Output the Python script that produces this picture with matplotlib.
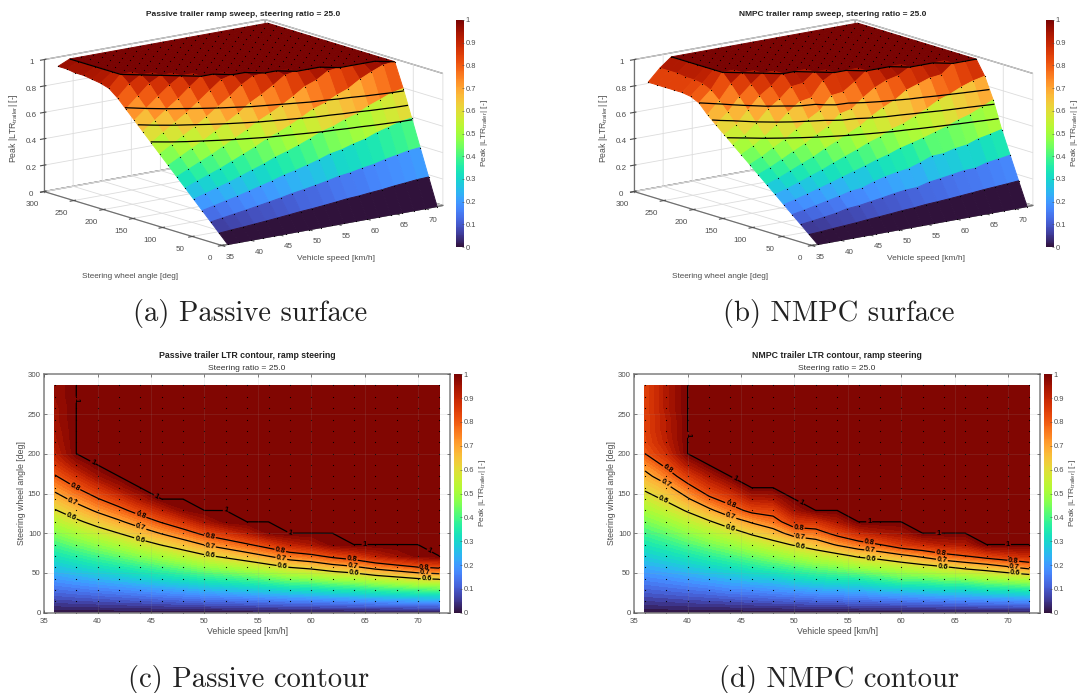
import numpy as np
import matplotlib
matplotlib.use("Agg")
import matplotlib.pyplot as plt
from matplotlib.cm import ScalarMappable
from matplotlib.colors import Normalize

# sweep grid in the contour plots
speeds = [36, 38, 40, 42, 44, 46, 48, 50, 52, 54, 56, 58, 60, 62, 64, 66, 68, 70, 72]
angles = [0, 14.3, 28.6, 42.9, 57.2, 71.5, 85.8, 100.1, 114.4, 128.7, 143, 157.3, 171.6,
          185.9, 200.2, 214.5, 228.8, 243.1, 257.4, 271.7, 286]

# peak LTR, one row per speed, one value per angle
passive_ltr = [
    [0, .066, .132, .198, .264, .330, .396, .462, .528, .594, .660, .726, .792, .858, .910, .930, .940, .950, .950, .960, .960],
    [0, .073, .145, .218, .291, .364, .436, .509, .582, .654, .727, .800, .872, .945, 1, 1, 1, 1, 1, 1, 1],
    [0, .079, .159, .238, .318, .397, .476, .556, .635, .715, .794, .873, .953, 1, 1, 1, 1, 1, 1, 1, 1],
    [0, .086, .172, .257, .343, .429, .515, .601, .686, .772, .858, .944, 1, 1, 1, 1, 1, 1, 1, 1, 1],
    [0, .093, .187, .280, .373, .467, .560, .653, .746, .840, .933, 1, 1, 1, 1, 1, 1, 1, 1, 1, 1],
    [0, .101, .202, .303, .404, .505, .606, .707, .808, .909, 1, 1, 1, 1, 1, 1, 1, 1, 1, 1, 1],
    [0, .109, .217, .326, .434, .543, .652, .760, .869, .977, 1, 1, 1, 1, 1, 1, 1, 1, 1, 1, 1],
    [0, .118, .235, .353, .470, .588, .705, .823, .940, 1, 1, 1, 1, 1, 1, 1, 1, 1, 1, 1, 1],
    [0, .124, .249, .373, .497, .622, .746, .870, .990, 1, 1, 1, 1, 1, 1, 1, 1, 1, 1, 1, 1],
    [0, .132, .264, .396, .528, .660, .792, .924, 1, 1, 1, 1, 1, 1, 1, 1, 1, 1, 1, 1, 1],
    [0, .141, .281, .422, .563, .704, .844, .985, 1, 1, 1, 1, 1, 1, 1, 1, 1, 1, 1, 1, 1],
    [0, .151, .301, .452, .602, .753, .903, 1, 1, 1, 1, 1, 1, 1, 1, 1, 1, 1, 1, 1, 1],
    [0, .156, .312, .468, .624, .780, .936, 1, 1, 1, 1, 1, 1, 1, 1, 1, 1, 1, 1, 1, 1],
    [0, .165, .330, .495, .660, .825, .990, 1, 1, 1, 1, 1, 1, 1, 1, 1, 1, 1, 1, 1, 1],
    [0, .172, .343, .515, .686, .858, 1, 1, 1, 1, 1, 1, 1, 1, 1, 1, 1, 1, 1, 1, 1],
    [0, .183, .365, .548, .730, .913, 1, 1, 1, 1, 1, 1, 1, 1, 1, 1, 1, 1, 1, 1, 1],
    [0, .191, .381, .572, .763, .954, 1, 1, 1, 1, 1, 1, 1, 1, 1, 1, 1, 1, 1, 1, 1],
    [0, .200, .399, .599, .798, .990, 1, 1, 1, 1, 1, 1, 1, 1, 1, 1, 1, 1, 1, 1, 1],
    [0, .204, .408, .612, .816, 1, 1, 1, 1, 1, 1, 1, 1, 1, 1, 1, 1, 1, 1, 1, 1],
]
nmpc_ltr = [
    [0, .056, .112, .168, .224, .281, .337, .393, .449, .505, .561, .617, .673, .730, .800, .830, .840, .840, .840, .840, .840],
    [0, .061, .123, .184, .245, .307, .368, .429, .490, .552, .613, .674, .750, .820, .880, .910, .920, .920, .930, .930, .930],
    [0, .068, .135, .203, .270, .338, .406, .473, .541, .610, .690, .770, .850, .930, 1, 1, 1, 1, 1, 1, 1],
    [0, .074, .148, .222, .296, .370, .444, .518, .590, .680, .780, .860, .930, 1, 1, 1, 1, 1, 1, 1, 1],
    [0, .080, .168, .241, .321, .401, .481, .560, .650, .760, .840, .920, 1, 1, 1, 1, 1, 1, 1, 1, 1],
    [0, .088, .175, .263, .350, .438, .526, .613, .710, .825, .920, 1, 1, 1, 1, 1, 1, 1, 1, 1, 1],
    [0, .094, .189, .272, .377, .472, .566, .660, .760, .840, .930, 1, 1, 1, 1, 1, 1, 1, 1, 1, 1],
    [0, .101, .202, .303, .404, .505, .610, .740, .860, .950, 1, 1, 1, 1, 1, 1, 1, 1, 1, 1, 1],
    [0, .109, .217, .326, .434, .543, .650, .760, .870, 1, 1, 1, 1, 1, 1, 1, 1, 1, 1, 1, 1],
    [0, .114, .229, .343, .458, .572, .710, .830, .930, 1, 1, 1, 1, 1, 1, 1, 1, 1, 1, 1, 1],
    [0, .123, .232, .355, .490, .615, .760, .890, 1, 1, 1, 1, 1, 1, 1, 1, 1, 1, 1, 1, 1],
    [0, .128, .256, .384, .512, .640, .800, .930, 1, 1, 1, 1, 1, 1, 1, 1, 1, 1, 1, 1, 1],
    [0, .134, .268, .418, .536, .680, .860, .950, 1, 1, 1, 1, 1, 1, 1, 1, 1, 1, 1, 1, 1],
    [0, .141, .281, .422, .563, .720, .890, 1, 1, 1, 1, 1, 1, 1, 1, 1, 1, 1, 1, 1, 1],
    [0, .148, .296, .444, .590, .770, .920, 1, 1, 1, 1, 1, 1, 1, 1, 1, 1, 1, 1, 1, 1],
    [0, .156, .298, .455, .625, .800, .930, 1, 1, 1, 1, 1, 1, 1, 1, 1, 1, 1, 1, 1, 1],
    [0, .162, .324, .486, .650, .840, 1, 1, 1, 1, 1, 1, 1, 1, 1, 1, 1, 1, 1, 1, 1],
    [0, .168, .336, .504, .690, .870, 1, 1, 1, 1, 1, 1, 1, 1, 1, 1, 1, 1, 1, 1, 1],
    [0, .175, .350, .525, .730, .890, 1, 1, 1, 1, 1, 1, 1, 1, 1, 1, 1, 1, 1, 1, 1],
]

# the plateau sits at exactly 1, so the top line is traced just under it
line_levels = [0.6, 0.7, 0.8, 0.9999]
line_names = {0.6: "0.6", 0.7: "0.7", 0.8: "0.8", 0.9999: "1"}

passive_spots = [(38, 268), (39.5, 188), (45.5, 146), (52, 129), (58, 100), (65, 86), (71, 76),
                 (37.9, 159), (44, 121), (50.5, 95), (57.1, 78), (63.8, 66), (70.6, 57),
                 (37.65, 140), (44, 106), (50.5, 83), (57.2, 68), (63.9, 57), (70.7, 50),
                 (37.5, 120), (43.9, 90), (50.5, 71), (57.3, 58), (64, 49), (70.8, 42)]
nmpc_spots = [(40, 224), (44.4, 168), (50.6, 138), (57, 114), (63.5, 100), (70, 85),
              (38, 178), (44, 135), (50.4, 108), (57, 88), (63.7, 74), (70.5, 65),
              (37.8, 159), (44, 120), (50.5, 95), (57.1, 78), (63.8, 65), (70.6, 57),
              (37.7, 141), (44, 107), (50.5, 83), (57.2, 68), (63.9, 57), (70.7, 50)]

W, H = 1079, 693
GRAY = "#4d4d4d"
BAR_LABEL = "Peak |LTR$_{\\mathrm{trailer}}$| [-]"

plt.rcParams["font.family"] = ["Liberation Sans", "DejaVu Sans"]
plt.rcParams["mathtext.fontset"] = "custom"
plt.rcParams["mathtext.rm"] = "Liberation Sans"
plt.rcParams["grid.color"] = "#dcdcdc"
plt.rcParams["grid.linewidth"] = 0.6
plt.rcParams["axes.edgecolor"] = "#808080"
plt.rcParams["axes.linewidth"] = 1.1


def box(x0, y0, x1, y1):
    # pixel box of the reference to figure fractions
    return [x0 / W, 1 - y1 / H, (x1 - x0) / W, (y1 - y0) / H]


def colorbar(fig, norm, x0, y0, x1, y1):
    cax = fig.add_axes(box(x0, y0, x1, y1))
    cb = fig.colorbar(ScalarMappable(norm=norm, cmap="turbo"), cax=cax)
    cb.set_ticks(np.arange(0, 1.01, 0.1), labels=["0", "0.1", "0.2", "0.3", "0.4", "0.5", "0.6", "0.7", "0.8", "0.9", "1"])
    cb.ax.tick_params(labelsize=5.4, length=1.5, width=0.4, pad=1, colors=GRAY, direction="in")
    cb.outline.set_linewidth(0)
    cb.set_label(BAR_LABEL, fontsize=6, color=GRAY, labelpad=2)


def surface_panel(fig, x_off, ltr, title):
    V, D = np.meshgrid(speeds, angles)
    Z = np.array(ltr).T
    norm = Normalize(0, 1)

    # view worked out from the box corners in the picture
    size = 413
    left = x_off + 31.4
    top = -68.4
    ax = fig.add_axes(box(left, top, left + size, top + size), projection="3d", computed_zorder=False)
    ax.set_proj_type("ortho")
    ax.view_init(elev=13.55, azim=-127.7)
    ax.set_box_aspect((279.4, 290.9, 135.8))
    ax.set_facecolor("none")

    # wider edges close the seams between the facets
    ax.plot_surface(V, D, Z, facecolors=plt.cm.turbo(norm(Z)), rstride=1, cstride=1,
                    shade=False, linewidth=0.7, zorder=1)
    ax.plot(V.ravel(), D.ravel(), Z.ravel(), "k.", ms=1.7, mew=0, zorder=2)
    ax.contour(V, D, Z, levels=line_levels, colors="k", linewidths=0.9, zorder=3)

    ax.set_xlim(35, 73)
    ax.set_ylim(0, 300)
    ax.set_zlim(0, 1)
    ax.set_xticks(np.arange(35, 71, 5))
    ax.set_yticks(np.arange(0, 301, 50))
    ax.set_zticks(np.arange(0, 1.01, 0.2), labels=["0", "0.2", "0.4", "0.6", "0.8", "1"])
    ax.tick_params(labelsize=5.8, colors=GRAY, pad=-3)
    ax.tick_params(axis="y", pad=0.5)
    ax.tick_params(axis="x", pad=-1)
    for axis in (ax.xaxis, ax.yaxis, ax.zaxis):
        axis.set_pane_color((1, 1, 1, 1))
        axis.pane.set_edgecolor("#707070")
        axis.pane.set_linewidth(0.9)
        axis.line.set_color("#707070")
        axis.line.set_linewidth(0.9)

    fig.text((x_off + 243) / W, 1 - 15 / H, title, fontsize=6.0, fontweight="bold", ha="center", va="center", color="#222222")
    fig.text((x_off + 14) / W, 1 - 128 / H, BAR_LABEL, fontsize=6.2, rotation=90, ha="center", va="center", color=GRAY)
    fig.text((x_off + 130) / W, 1 - 276 / H, "Steering wheel angle [deg]", fontsize=5.9, ha="center", va="center", color=GRAY)
    fig.text((x_off + 336) / W, 1 - 258 / H, "Vehicle speed [km/h]", fontsize=6.0, ha="center", va="center", color=GRAY)

    colorbar(fig, norm, x_off + 456, 20, x_off + 464, 247)


def contour_panel(fig, x_off, ltr, spots, title):
    V, D = np.meshgrid(speeds, angles)
    Z = np.array(ltr).T
    norm = Normalize(0, 1)

    ax = fig.add_axes(box(x_off + 44.3, 374.3, x_off + 450, 612.7))
    ax.contourf(V, D, Z, levels=np.linspace(0, 1, 51), cmap="turbo", norm=norm)
    cs = ax.contour(V, D, Z, levels=line_levels, colors="k", linewidths=0.9)
    for label in ax.clabel(cs, manual=spots, fmt=line_names, fontsize=5.4, inline_spacing=1):
        label.set_fontweight("bold")
    ax.plot(V.ravel(), D.ravel(), "k.", ms=1.7, mew=0)

    ax.set_xlim(35, 73)
    ax.set_ylim(0, 300)
    ax.set_xticks(np.arange(35, 71, 5))
    ax.set_yticks(np.arange(0, 301, 50))
    ax.set_axisbelow(False)
    ax.grid(True, color="#999999", alpha=0.14, lw=0.7)
    ax.tick_params(labelsize=5.7, colors=GRAY, direction="in", length=2.5, width=0.5, pad=2.5,
                   top=True, right=True)
    ax.tick_params(axis="x", pad=3.5)
    ax.set_xlabel("Vehicle speed [km/h]", fontsize=6.3, color=GRAY, labelpad=1.5)
    ax.set_ylabel("Steering wheel angle [deg]", fontsize=6.3, color=GRAY, labelpad=1.5)

    fig.text((x_off + 247) / W, 1 - 356 / H, title, fontsize=6.3, fontweight="bold", ha="center", va="center", color="#222222")
    fig.text((x_off + 247) / W, 1 - 368 / H, "Steering ratio = 25.0", fontsize=6.1, ha="center", va="center", color="#333333")

    colorbar(fig, norm, x_off + 454, 374.3, x_off + 462.3, 612.7)


fig = plt.figure(figsize=(W / 100, H / 100), dpi=100)

surface_panel(fig, 0, passive_ltr, "Passive trailer ramp sweep, steering ratio = 25.0")
surface_panel(fig, 590, nmpc_ltr, "NMPC trailer ramp sweep, steering ratio = 25.0")
contour_panel(fig, 0, passive_ltr, passive_spots, "Passive trailer LTR contour, ramp steering")
contour_panel(fig, 590, nmpc_ltr, nmpc_spots, "NMPC trailer LTR contour, ramp steering")

# sub captions
caps = [("(a) Passive surface", 250, 313), ("(b) NMPC surface", 839, 313),
        ("(c) Passive contour", 249, 679), ("(d) NMPC contour", 839, 679)]
for text, cx, cy in caps:
    fig.text(cx / W, 1 - cy / H, text, family="cmr10", fontsize=20.6, ha="center", va="center", color="#222222")

fig.savefig("out.png", dpi=100)
